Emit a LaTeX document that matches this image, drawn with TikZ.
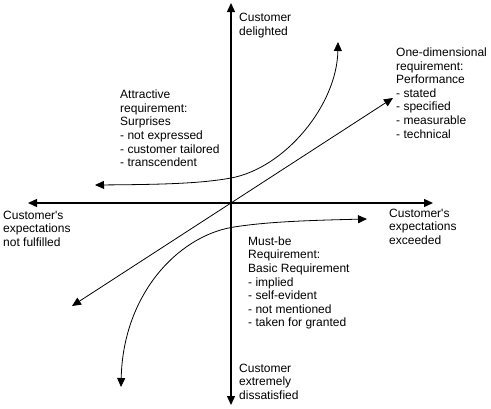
\documentclass[tikz,border=0pt]{standalone}
\usepackage{fontspec}
\setmainfont{Liberation Sans}
\usetikzlibrary{arrows.meta}
\begin{document}
\begin{tikzpicture}[x=1pt,y=-1pt,
  tip/.tip={Triangle[length=9pt,width=8pt]},
  axisline/.style={line width=1.3pt,tip-tip},
  curveline/.style={line width=0.8pt,tip-tip},
  lbl/.style={anchor=north west,inner sep=0pt,align=left,font=\fontsize{12}{13.6}\selectfont}]
\useasboundingbox (0,0) rectangle (491,408);
% axes
\coordinate (O) at (231,203);
\coordinate (top) at (231,3);
\coordinate (bot) at (231,405);
\coordinate (left) at (28,203);
\coordinate (right) at (433,203);
\draw[axisline] (bot) -- (top);
\draw[axisline] (left) -- (right);
% one-dimensional
\coordinate (dL) at (72,306);
\coordinate (dR) at (393,98);
\draw[curveline] (dL) -- (dR);
% attractive
\coordinate (aL) at (95,185);
\coordinate (aM) at (231,178);
\coordinate (aT) at (338,42);
\draw[curveline] (aL) .. controls (160,184.5) and (200,183.7) .. (aM)
  .. controls (285,168) and (337,105) .. (aT);
% must-be
\coordinate (mR) at (367,219);
\coordinate (mM) at (231,227.5);
\coordinate (mB) at (121,387);
\draw[curveline] (mR) .. controls (300,220.5) and (262,222.3) .. (mM)
  .. controls (177,237.5) and (123,295) .. (mB);
% labels
\node[lbl] (delighted) at (239,13.1) {Customer\\delighted};
\node[lbl] (onedim) at (396,47.6) {One-dimensional\\requirement:\\Performance\\- stated\\- specified\\- measurable\\- technical};
\node[lbl] (attr) at (120,89.9) {Attractive\\requirement:\\Surprises\\- not expressed\\- customer tailored\\- transcendent};
\node[lbl] (notful) at (3,210.6) {Customer\textquotesingle s\\expectations\\not fulfilled};
\node[lbl] (exceed) at (389,208.6) {Customer\textquotesingle s\\expectations\\exceeded};
\node[lbl] (mustbe) at (248,236.3) {Must-be\\Requirement:\\Basic Requirement\\- implied\\- self-evident\\- not mentioned\\- taken for granted};
\node[lbl] (dissat) at (239,363.6) {Customer\\extremely\\dissatisfied};
\end{tikzpicture}
\end{document}
